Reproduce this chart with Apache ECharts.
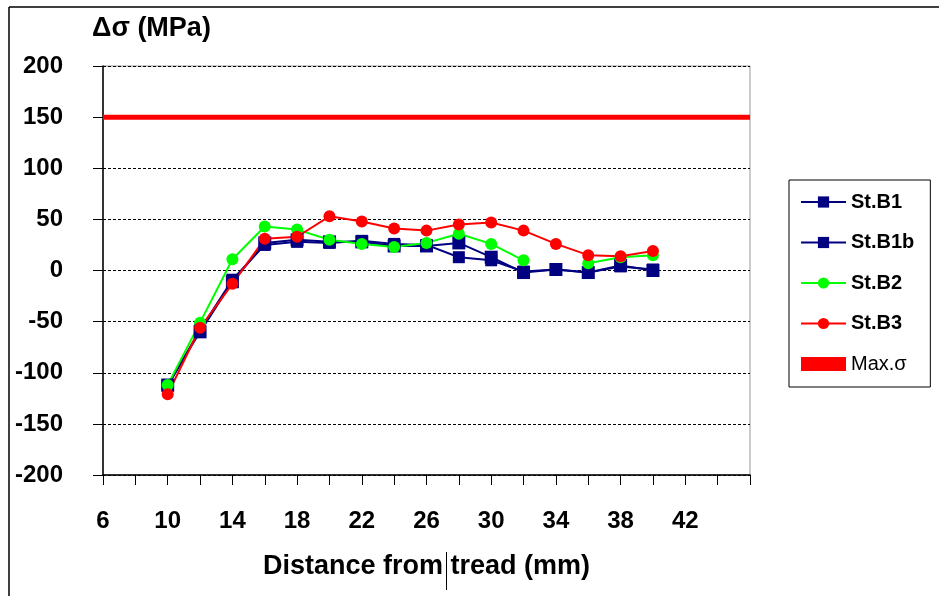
<!DOCTYPE html>
<html>
<head>
<meta charset="utf-8">
<script src="https://cdn.jsdelivr.net/npm/echarts@6/dist/echarts.min.js"></script>
<style>
html,body{margin:0;padding:0;background:#fff;}
#c{width:939px;height:596px;}
</style>
</head>
<body>
<div id="c"></div>
<script>
// Data
const distances = [10, 12, 14, 16, 18, 20, 22, 24, 26, 28, 30, 32, 34, 36, 38, 40];
const stB1  = [-113, -58, -9, 25, 28, 27, 29, 26, 25, 13, 10, -1, 1, -2, 4, 1];
const stB1b = [-112, -60, -11, 27, 30, 28, 28, 24, 24, 27, 13, -2, 1, -2, 5, 0];
const stB2  = [-112, -51, 11, 43, 40, 30, 26, 23, 27, 36, 26, 10, null, 7, 13, 15];
const stB3  = [-121, -56, -13, 31, 33, 53, 48, 41, 39, 45, 47, 39, 26, 15, 14, 19];
const maxSigmaX = [6, 46];
const maxSigmaY = [150, 150];
const xTickLabels = [6, 10, 14, 18, 22, 26, 30, 34, 38, 42];
const yTickLabels = [-200, -150, -100, -50, 0, 50, 100, 150, 200];

const pair = (xs, ys) => xs.map((x, i) => [x, ys[i]]);
const FONT = '"Liberation Sans", Arial, sans-serif';

const chart = echarts.init(document.getElementById('c'), null, {renderer: 'canvas'});

function lineSeries(name, data, color, symbol, size) {
  return {
    name: name, type: 'line', data: pair(distances, data),
    symbol: symbol, symbolSize: size, connectNulls: false,
    lineStyle: {color: color, width: 2},
    itemStyle: {color: color},
    emphasis: {disabled: true}, z: 3
  };
}

chart.setOption({
  animation: false,
  backgroundColor: '#fff',
  grid: {left: 103, right: 189, top: 66, bottom: 121, show: true, borderColor: '#999', borderWidth: 1, backgroundColor: 'transparent'},
  xAxis: {
    type: 'value', min: 6, max: 46, interval: 2,
    axisLine: {show: true, onZero: false, lineStyle: {color: '#000', width: 1.5}},
    axisTick: {show: true, inside: false, length: 10, lineStyle: {color: '#000'}},
    axisLabel: {
      margin: 34, color: '#000', fontFamily: FONT, fontWeight: 'bold', fontSize: 24,
      formatter: v => xTickLabels.includes(v) ? String(v) : ''
    },
    splitLine: {show: false},
    name: 'Distance from tread (mm)', nameLocation: 'middle', nameGap: 78,
    nameTextStyle: {color: '#000', fontFamily: FONT, fontWeight: 'bold', fontSize: 27}
  },
  yAxis: {
    type: 'value', min: -200, max: 200, interval: 50,
    axisLine: {show: true, onZero: false, lineStyle: {color: '#000', width: 1.5}},
    axisTick: {show: true, inside: false, length: 10, lineStyle: {color: '#000'}},
    axisLabel: {
      margin: 40, color: '#000', fontFamily: FONT, fontWeight: 'bold', fontSize: 24,
      formatter: v => yTickLabels.includes(v) ? String(v) : ''
    },
    splitLine: {show: true, lineStyle: {color: '#000', type: [3, 2], width: 1}}
  },
  legend: {
    orient: 'vertical', left: 789, top: 180,
    padding: [12, 16, 13, 11], itemGap: 20.5, itemWidth: 45, itemHeight: 14,
    borderColor: '#000', borderWidth: 1, backgroundColor: '#fff',
    textStyle: {color: '#000', fontFamily: FONT, fontWeight: 'bold', fontSize: 20, lineHeight: 20},
    data: [
      {name: 'St.B1'}, {name: 'St.B1b'}, {name: 'St.B2'}, {name: 'St.B3'},
      {name: 'Max.σ', icon: 'rect', itemStyle: {color: '#ff0000'}, textStyle: {fontWeight: 'normal', fontSize: 20}}
    ]
  },
  series: [
    lineSeries('St.B1', stB1, '#000080', 'rect', 12),
    lineSeries('St.B1b', stB1b, '#000080', 'rect', 13),
    lineSeries('St.B2', stB2, '#00ff00', 'circle', 12),
    lineSeries('St.B3', stB3, '#ff0000', 'circle', 12),
    {
      name: 'Max.σ', type: 'line', data: pair(maxSigmaX, maxSigmaY),
      symbol: 'none', lineStyle: {color: '#ff0000', width: 5},
      itemStyle: {color: '#ff0000'}, emphasis: {disabled: true}, z: 2
    }
  ],
  graphic: [
    {type: 'text', left: 92, top: 15, style: {text: 'Δσ (MPa)', fill: '#000', font: 'bold 27px ' + FONT}},
    {type: 'line', shape: {x1: 9, y1: 7, x2: 939, y2: 7}, style: {stroke: '#000', lineWidth: 1.5}},
    {type: 'line', shape: {x1: 9, y1: 7, x2: 9, y2: 596}, style: {stroke: '#000', lineWidth: 1.5}},
    {type: 'line', shape: {x1: 446.5, y1: 552, x2: 446.5, y2: 590}, style: {stroke: '#000', lineWidth: 1}}
  ]
});
</script>
</body>
</html>
